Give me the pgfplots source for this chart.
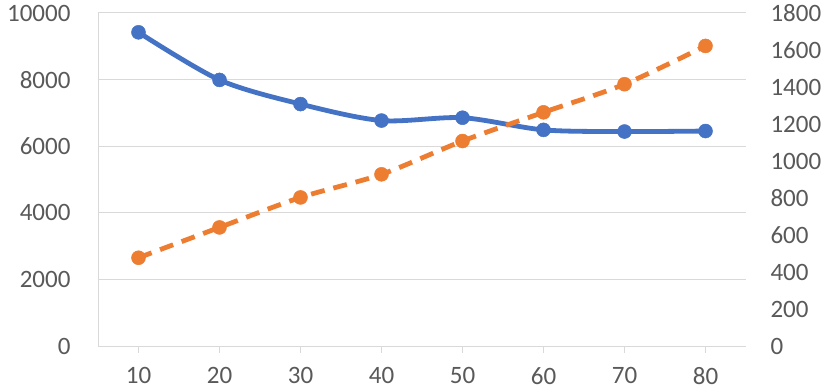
\documentclass[border=0pt]{standalone}
\usepackage{fontspec}
\setmainfont{Carlito}
\usepackage{pgfplots}
\pgfplotsset{compat=1.18}

\definecolor{serA}{HTML}{4472C4}
\definecolor{serB}{HTML}{ED7D31}
\definecolor{txt}{HTML}{595959}
\definecolor{grd}{HTML}{D9D9D9}

\pgfplotsset{
  base/.style={
    scale only axis,
    width=648bp, height=333bp,
    at={(98bp,46bp)}, anchor=south west,
    xmin=5, xmax=85,
    ymin=0,
    scaled ticks=false,
    tick label style={font=\fontsize{25bp}{28bp}\selectfont, text=txt},
    /pgf/number format/assume math mode=true,
    /pgf/number format/1000 sep={},
    major tick length=7bp,
  },
}

\begin{document}
\begin{tikzpicture}
\useasboundingbox (0,0) rectangle (830bp,392bp);

% left axis: blue series
\begin{axis}[base,
    ymax=10000, ytick={0,2000,...,10000},
    axis x line*=bottom, axis y line*=left,
    x axis line style={draw=grd, line width=1bp, -},
    y axis line style={draw=grd, line width=1bp, -},
    xtick={10,20,...,80},
    xtick style={draw=grd, line width=1bp},
    ytick style={draw=none},
    tick align=outside,
    x tick label style={yshift=-11bp},
    y tick label style={xshift=-17bp},
    ymajorgrids, grid style={grd, line width=1bp},
]
\addplot[serA, line width=4.8bp, smooth, mark=*, mark size=7bp,
         mark options={solid, fill=serA, draw=serA, line width=0.5bp}]
  coordinates {(10,9420) (20,7990) (30,7265) (40,6770) (50,6855) (60,6490) (70,6440) (80,6455)};
\end{axis}

% right axis: orange series
\begin{axis}[base,
    ymax=1800, ytick={0,200,...,1800},
    axis x line=none,
    axis y line*=right,
    y axis line style={draw=none},
    ytick style={draw=none},
    y tick label style={xshift=21bp},
]
\addplot[serB, line width=4.8bp, smooth, dash pattern=on 14bp off 9bp, mark=*, mark size=7bp,
         mark options={solid, fill=serB, draw=serB, line width=0.5bp}]
  coordinates {(10,477) (20,641) (30,803) (40,928) (50,1108) (60,1263) (70,1415) (80,1622)};
\end{axis}
\end{tikzpicture}
\end{document}
